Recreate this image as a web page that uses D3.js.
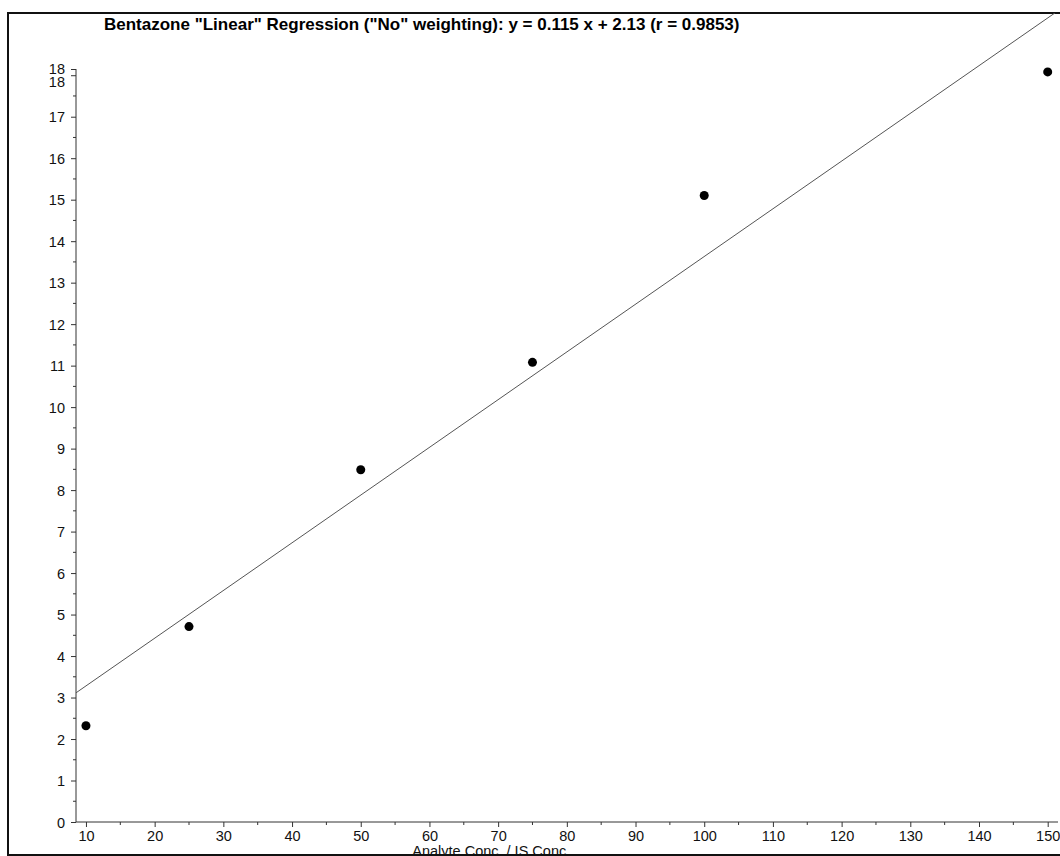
<!DOCTYPE html>
<html>
<head>
<meta charset="utf-8">
<script src="https://cdn.jsdelivr.net/npm/d3@7"></script>
<style>
  body { margin: 0; background: #fff; }
  svg { display: block; font-family: "Liberation Sans", Arial, sans-serif; }
</style>
</head>
<body>
<svg id="chart" width="1060" height="856"></svg>
<script>
"use strict";
// calibration data
const title = 'Bentazone "Linear" Regression ("No" weighting): y = 0.115 x + 2.13 (r = 0.9853)';
const xLabel = "Analyte Conc. / IS Conc.";
const concs = [10, 25, 50, 75, 100, 150];
const ratios = [2.32, 4.71, 8.49, 11.08, 15.10, 18.08];
const slope = 0.115;
const intercept = 2.13;
const xTicks = [10, 20, 30, 40, 50, 60, 70, 80, 90, 100, 110, 120, 130, 140, 150];
const yTicks = [0, 1, 2, 3, 4, 5, 6, 7, 8, 9, 10, 11, 12, 13, 14, 15, 16, 17, 18];
const xDomain = [8.55, 151.5];
const yDomain = [0, 18.15];

const svg = d3.select("#chart");
const x = d3.scaleLinear().domain(xDomain).range([76, 1058]);
const y = d3.scaleLinear().domain(yDomain).range([822, 69]);

// clip to the frame (regression line runs past the axis top)
svg.append("defs").append("clipPath")
    .attr("id", "frame-clip")
    .append("rect")
    .attr("x", 8).attr("y", 13).attr("width", 1060).attr("height", 841);

// frame
svg.append("path")
    .attr("d", "M1062,13H8V855H1062")
    .style("fill", "none")
    .style("stroke", "#111")
    .style("stroke-width", 2);

svg.append("text")
    .attr("x", 104)
    .attr("y", 30)
    .style("font-size", "17px")
    .style("font-weight", "bold")
    .text(title);

// y axis
const yAxis = svg.append("g")
    .attr("transform", `translate(${x.range()[0]},0)`)
    .call(d3.axisLeft(y)
        .tickValues(yTicks.concat([yDomain[1]]))
        .tickSize(5)
        .tickPadding(6)
        .tickFormat(d => d3.format(".0f")(d)));
yAxis.select(".domain").attr("d", `M0,${y.range()[1]}V${y.range()[0]}`);
yAxis.append("g").selectAll("line")
    .data(d3.range(0.5, 18, 1))
    .enter()
    .append("line")
    .attr("x1", -3).attr("x2", 0)
    .attr("y1", d => y(d)).attr("y2", d => y(d));

// x axis
const xAxis = svg.append("g")
    .attr("transform", `translate(0,${y.range()[0]})`)
    .call(d3.axisBottom(x)
        .tickValues(xTicks)
        .tickSize(5)
        .tickPadding(4));
xAxis.select(".domain").attr("d", `M${x.range()[0]},0H${x.range()[1]}`);
xAxis.append("g").selectAll("line")
    .data(d3.range(15, 150, 10))
    .enter()
    .append("line")
    .attr("x1", d => x(d)).attr("x2", d => x(d))
    .attr("y1", 0).attr("y2", 3);

svg.selectAll(".tick text").style("font-size", "14.5px").style("fill", "#111");
svg.selectAll("g path.domain, g line").style("stroke", "#333");
yAxis.selectAll(".tick text").attr("dy", "0.36em");
// the two "18" labels sit a little apart, as in the source plot
yAxis.selectAll(".tick text")
    .filter(d => d === yDomain[1])
    .attr("dy", "0.3em");
yAxis.selectAll(".tick text")
    .filter(d => d === 18)
    .attr("dy", "0.76em");

svg.append("text")
    .attr("x", x(69))
    .attr("y", 856)
    .attr("text-anchor", "middle")
    .style("font-size", "14.5px")
    .style("fill", "#111")
    .text(xLabel);

// regression line
svg.append("line")
    .attr("clip-path", "url(#frame-clip)")
    .attr("x1", x(xDomain[0]))
    .attr("y1", y(slope * xDomain[0] + intercept))
    .attr("x2", x(xDomain[1]))
    .attr("y2", y(slope * xDomain[1] + intercept))
    .style("stroke", "#555")
    .style("stroke-width", 1);

// standards
svg.append("g").selectAll("circle")
    .data(concs)
    .enter()
    .append("circle")
    .attr("cx", (d) => x(d))
    .attr("cy", (d, i) => y(ratios[i]))
    .attr("r", 4.5)
    .style("fill", "#000");
</script>
</body>
</html>
